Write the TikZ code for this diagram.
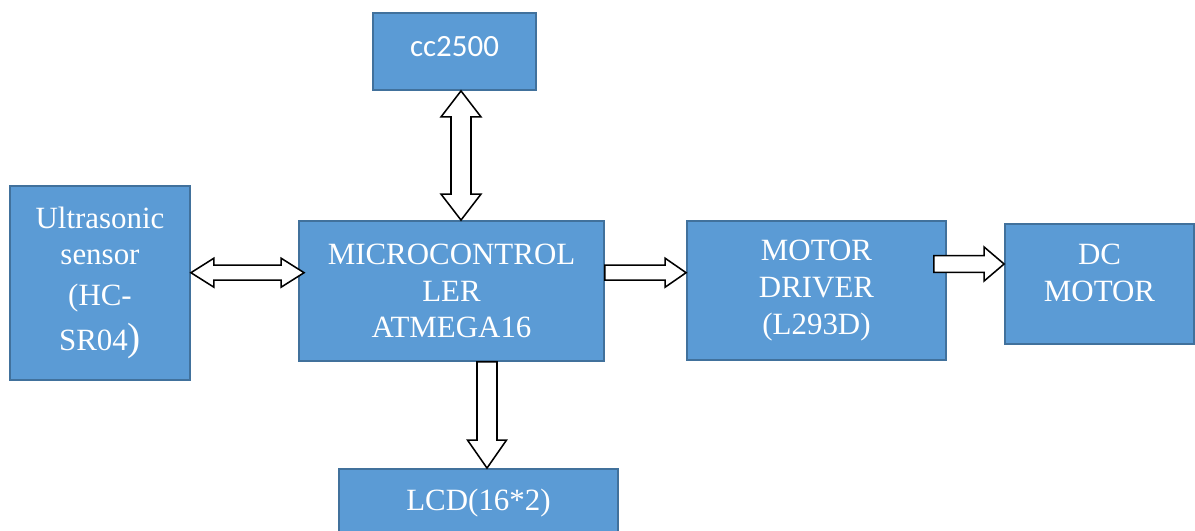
\documentclass[tikz,border=0pt]{standalone}
\usepackage{fontspec}
\setmainfont{Liberation Serif}
\newfontfamily\calibfont{Carlito}
\usetikzlibrary{calc,positioning}

\definecolor{boxblue}{HTML}{5B9BD5}
\definecolor{boxedge}{HTML}{41719C}
\newcommand{\pxu}{0.025cm}

\tikzset{
 blk/.style={draw=boxedge, line width=1.3pt, fill=boxblue, text=white, inner sep=0pt, align=center, font=\fontsize{22}{26}\selectfont},
 blkarrow/.style={draw=black, line width=1.1pt, fill=white, line join=miter},
}

% hollow arrow with two heads: from, to, shaft half, head half, head length
\newcommand{\dblarrow}[5]{%
 \draw[blkarrow] (#1)
  -- ($(#1)!{#5*\pxu}!(#2)!{#4*\pxu}!90:(#2)$)
  -- ($(#1)!{#5*\pxu}!(#2)!{#3*\pxu}!90:(#2)$)
  -- ($(#2)!{#5*\pxu}!(#1)!{#3*\pxu}!-90:(#1)$)
  -- ($(#2)!{#5*\pxu}!(#1)!{#4*\pxu}!-90:(#1)$)
  -- (#2)
  -- ($(#2)!{#5*\pxu}!(#1)!{#4*\pxu}!90:(#1)$)
  -- ($(#2)!{#5*\pxu}!(#1)!{#3*\pxu}!90:(#1)$)
  -- ($(#1)!{#5*\pxu}!(#2)!{#3*\pxu}!-90:(#2)$)
  -- ($(#1)!{#5*\pxu}!(#2)!{#4*\pxu}!-90:(#2)$)
  -- cycle;}

% hollow arrow with one head
\newcommand{\onearrow}[5]{%
 \draw[blkarrow] ($(#1)!{#3*\pxu}!90:(#2)$)
  -- ($(#2)!{#5*\pxu}!(#1)!{#3*\pxu}!-90:(#1)$)
  -- ($(#2)!{#5*\pxu}!(#1)!{#4*\pxu}!-90:(#1)$)
  -- (#2)
  -- ($(#2)!{#5*\pxu}!(#1)!{#4*\pxu}!90:(#1)$)
  -- ($(#2)!{#5*\pxu}!(#1)!{#3*\pxu}!90:(#1)$)
  -- ($(#1)!{#3*\pxu}!-90:(#2)$)
  -- cycle;}

\begin{document}
\begin{tikzpicture}[x=0.025cm, y=-0.025cm]
 \clip (0,0) rectangle (1195,531);

 % blocks
 \node[blk, font=\calibfont\fontsize{22}{26}\selectfont, text depth=10*\pxu, minimum width=163*\pxu, minimum height=77*\pxu] (cc) at (454.5,51.5) {cc2500};
 \node[blk, minimum width=180*\pxu, minimum height=194*\pxu] (us) at (100,283) {Ultrasonic\\sensor\\[3pt](HC-\\[6pt]SR04{\fontsize{28}{30}\selectfont)}};
 \node[blk, minimum width=305*\pxu, minimum height=140*\pxu] (mcu) at (451.5,291) {MICROCONTROL\\LER\\ATMEGA16};
 \node[blk, minimum width=259*\pxu, minimum height=139*\pxu] (drv) at (816.5,290.5) {MOTOR\\DRIVER\\(L293D)};
 \node[blk, text depth=22*\pxu, minimum width=189*\pxu, minimum height=120*\pxu] (dc) at (1099.5,284) {DC\\MOTOR};
 \node[blk, minimum width=279*\pxu, minimum height=69*\pxu] (lcd) at (478.5,503.5) {LCD(16*2)};

 % arrow ends
 \coordinate (ccS) at (cc.south -| 461,0);
 \coordinate (mcuN) at (mcu.north -| 461,0);
 \coordinate (usE) at (us.east |- 0,272.7);
 \coordinate (mcuW) at ($(mcu.west |- 0,272.7)+(6,0)$);
 \coordinate (mcuE) at (mcu.east |- 0,272.7);
 \coordinate (drvW) at (drv.west |- 0,272.7);
 \coordinate (drvE) at ($(drv.east |- 0,264)+(-13,0)$);
 \coordinate (dcW) at (dc.west |- 0,264);
 \coordinate (mcuS) at (mcu.south -| 487,0);
 \coordinate (lcdN) at (lcd.north -| 487,0);

 % arrows
 \dblarrow{ccS}{mcuN}{10}{20}{26}
 \dblarrow{usE}{mcuW}{7.5}{14.5}{23}
 \onearrow{mcuE}{drvW}{7.5}{14.5}{21}
 \onearrow{drvE}{dcW}{8.3}{17}{20}
 \onearrow{mcuS}{lcdN}{10}{19.5}{28}
\end{tikzpicture}
\end{document}
